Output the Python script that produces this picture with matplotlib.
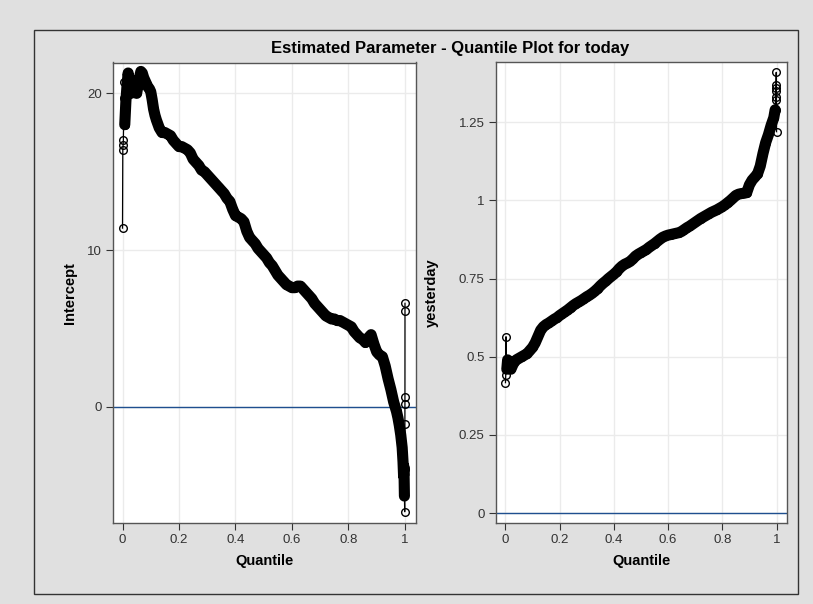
import matplotlib
matplotlib.use("Agg")
import matplotlib.pyplot as plt
import numpy as np
from matplotlib.patches import Rectangle

# quantile levels and estimates
q_intercept = [
    0.0, 0.001, 0.002, 0.003, 0.004, 0.005, 0.006, 0.008, 0.012, 0.016,
    0.02, 0.025, 0.03, 0.035, 0.04, 0.045, 0.05, 0.055, 0.06, 0.065,
    0.07, 0.075, 0.08, 0.085, 0.09, 0.095, 0.10, 0.105, 0.11, 0.115,
    0.12, 0.13, 0.14, 0.15, 0.16, 0.17, 0.18, 0.19, 0.20, 0.21,
    0.22, 0.23, 0.24, 0.25, 0.26, 0.27, 0.28, 0.29, 0.30, 0.31,
    0.32, 0.33, 0.34, 0.35, 0.36, 0.37, 0.38, 0.39, 0.40, 0.41,
    0.42, 0.43, 0.44, 0.45, 0.46, 0.47, 0.48, 0.49, 0.50, 0.51,
    0.52, 0.53, 0.54, 0.55, 0.56, 0.57, 0.58, 0.59, 0.60, 0.61,
    0.62, 0.63, 0.64, 0.65, 0.66, 0.67, 0.68, 0.69, 0.70, 0.71,
    0.72, 0.73, 0.74, 0.75, 0.76, 0.77, 0.78, 0.79, 0.80, 0.81,
    0.82, 0.83, 0.84, 0.85, 0.86, 0.87, 0.88, 0.89, 0.90, 0.91,
    0.92, 0.93, 0.94, 0.95, 0.96, 0.965, 0.97, 0.975, 0.98, 0.985,
    0.99, 0.993, 0.995, 0.996, 0.997, 0.998, 0.999, 0.9993, 0.9995, 0.9997,
    0.9998, 0.9999, 1.0,
]
intercept = [
    11.4, 16.4, 16.7, 17.0, 18.2, 19.7, 20.7, 18.0, 19.5, 20.5,
    21.3, 20.6, 20.0, 20.4, 20.8, 20.2, 20.0, 20.5, 21.0, 21.4,
    21.3, 21.0, 20.8, 20.6, 20.4, 20.3, 20.1, 19.6, 19.0, 18.6,
    18.3, 17.8, 17.5, 17.5, 17.4, 17.3, 17.0, 16.8, 16.6, 16.6,
    16.5, 16.4, 16.2, 15.8, 15.6, 15.4, 15.1, 15.0, 14.8, 14.6,
    14.4, 14.2, 14.0, 13.8, 13.6, 13.3, 13.1, 12.6, 12.2, 12.1,
    12.0, 11.8, 11.2, 10.8, 10.6, 10.4, 10.1, 9.9, 9.7, 9.5,
    9.2, 9.0, 8.7, 8.4, 8.2, 8.0, 7.8, 7.7, 7.6, 7.6,
    7.7, 7.7, 7.5, 7.3, 7.1, 6.9, 6.6, 6.4, 6.2, 6.0,
    5.8, 5.7, 5.6, 5.6, 5.5, 5.5, 5.4, 5.3, 5.2, 5.1,
    4.8, 4.6, 4.4, 4.3, 4.1, 4.4, 4.6, 4.0, 3.5, 3.3,
    3.2, 2.6, 1.8, 1.1, 0.3, 0.0, -0.3, -0.7, -1.2, -1.8,
    -2.6, -3.5, -4.4, -3.8, -4.6, -5.7, -6.7, -4.0, -1.1, 0.2,
    0.6, 6.1, 6.6,
]

q_yesterday = [
    0.0, 0.001, 0.002, 0.003, 0.005, 0.008, 0.01, 0.02, 0.03, 0.04,
    0.05, 0.06, 0.07, 0.08, 0.09, 0.10, 0.11, 0.12, 0.13, 0.14,
    0.15, 0.16, 0.17, 0.18, 0.19, 0.20, 0.21, 0.22, 0.23, 0.24,
    0.25, 0.26, 0.27, 0.28, 0.29, 0.30, 0.31, 0.32, 0.33, 0.34,
    0.35, 0.36, 0.37, 0.38, 0.39, 0.40, 0.41, 0.42, 0.43, 0.44,
    0.45, 0.46, 0.47, 0.48, 0.49, 0.50, 0.51, 0.52, 0.53, 0.54,
    0.55, 0.56, 0.57, 0.58, 0.59, 0.60, 0.61, 0.62, 0.63, 0.64,
    0.65, 0.66, 0.67, 0.68, 0.69, 0.70, 0.71, 0.72, 0.73, 0.74,
    0.75, 0.76, 0.77, 0.78, 0.79, 0.80, 0.81, 0.82, 0.83, 0.84,
    0.85, 0.86, 0.87, 0.88, 0.89, 0.90, 0.91, 0.92, 0.93, 0.94,
    0.95, 0.96, 0.97, 0.98, 0.99, 0.995, 0.997, 0.998, 0.999, 0.9993,
    0.9995, 0.9997, 0.9999, 1.0,
]
yesterday = [
    0.417, 0.44, 0.564, 0.48, 0.46, 0.49, 0.47, 0.46, 0.48, 0.49,
    0.495, 0.50, 0.505, 0.51, 0.52, 0.53, 0.545, 0.565, 0.585, 0.596,
    0.603, 0.608, 0.614, 0.62, 0.625, 0.632, 0.638, 0.644, 0.65, 0.657,
    0.664, 0.67, 0.675, 0.68, 0.686, 0.692, 0.697, 0.703, 0.71, 0.718,
    0.727, 0.735, 0.742, 0.75, 0.757, 0.764, 0.772, 0.782, 0.79, 0.796,
    0.80, 0.805, 0.813, 0.822, 0.828, 0.833, 0.838, 0.843, 0.85, 0.856,
    0.862, 0.869, 0.876, 0.882, 0.886, 0.889, 0.891, 0.893, 0.895, 0.897,
    0.901, 0.907, 0.913, 0.918, 0.924, 0.93, 0.936, 0.942, 0.947, 0.952,
    0.957, 0.962, 0.966, 0.97, 0.975, 0.98, 0.986, 0.993, 1.0, 1.008,
    1.016, 1.02, 1.022, 1.023, 1.025, 1.05, 1.065, 1.075, 1.085, 1.11,
    1.15, 1.185, 1.21, 1.24, 1.265, 1.29, 1.33, 1.36, 1.41, 1.37,
    1.35, 1.32, 1.29, 1.22,
]

x_ticks = [0, 0.2, 0.4, 0.6, 0.8, 1]
x_ticklabels = ["0", "0.2", "0.4", "0.6", "0.8", "1"]
intercept_ticks = [0, 10, 20]
yesterday_ticks = [0, 0.25, 0.5, 0.75, 1, 1.25]
yesterday_ticklabels = ["0", "0.25", "0.5", "0.75", "1", "1.25"]

BG = "#e0e0e0"
plt.rcParams["font.family"] = ["Liberation Sans", "DejaVu Sans"]

W, H = 813, 604
fig = plt.figure(figsize=(W / 100, H / 100), dpi=100, facecolor=BG)

# outer frame of the panel
fig.patches.append(Rectangle((34 / W, 1 - 594 / H), (798 - 34) / W, (594 - 30) / H,
                             transform=fig.transFigure, fill=False,
                             edgecolor="#333333", linewidth=1.0))

fig.text(0.5 * (113 + 787) / W, 1 - 48 / H, "Estimated Parameter - Quantile Plot for today",
         ha="center", va="center", fontsize=12, fontweight="bold", color="#000000")


def style_axes(ax, xlim, ylim, yticks, yticklabels, ylabel, ylabelpad):
    ax.set_facecolor("white")
    ax.set_xlim(*xlim)
    ax.set_ylim(*ylim)
    ax.set_xticks(x_ticks)
    ax.set_xticklabels(x_ticklabels)
    ax.set_yticks(yticks)
    ax.set_yticklabels(yticklabels)
    ax.grid(True, color="#ebebeb", linewidth=1.0)
    ax.set_axisbelow(True)
    for s in ax.spines.values():
        s.set_color("#555555")
        s.set_linewidth(1.0)
    ax.tick_params(direction="out", length=5, width=0.8, color="#333333",
                   labelsize=9.5, labelcolor="#333333", pad=3)
    ax.set_xlabel("Quantile", fontsize=10.5, fontweight="bold", labelpad=6)
    ax.set_ylabel(ylabel, fontsize=10.5, fontweight="bold", labelpad=ylabelpad)
    ax.axhline(0, color="#1f4f8f", linewidth=1.0, zorder=2)


def quantile_plot(ax, q, est, band_lo, band_hi):
    q = np.asarray(q)
    est = np.asarray(est)
    # the estimates are so dense in the middle that the circles merge into a band
    inner = (q >= band_lo) & (q <= band_hi)
    ax.plot(q[inner], est[inner], color="black", linewidth=8.0,
            solid_capstyle="round", solid_joinstyle="round", zorder=3)
    ax.plot(q, est, color="black", linewidth=0.9, marker="o",
            markersize=5.5, markerfacecolor="none", markeredgecolor="black",
            markeredgewidth=1.0, zorder=4)


ax1 = fig.add_axes([112.7 / W, 1 - 522.7 / H, (416 - 112.7) / W, (522.7 - 62.5) / H])
style_axes(ax1, (-0.0347, 1.039), (-7.40, 21.97), intercept_ticks,
           [str(t) for t in intercept_ticks], "Intercept", 7)
quantile_plot(ax1, q_intercept, intercept, 0.008, 0.998)

ax2 = fig.add_axes([495.7 / W, 1 - 522.7 / H, (786.7 - 495.7) / W, (522.7 - 62) / H])
style_axes(ax2, (-0.036, 1.0376), (-0.031, 1.443), yesterday_ticks,
           yesterday_ticklabels, "yesterday", 14)
quantile_plot(ax2, q_yesterday, yesterday, 0.005, 0.995)

fig.savefig("out.png", dpi=100, facecolor=BG)
